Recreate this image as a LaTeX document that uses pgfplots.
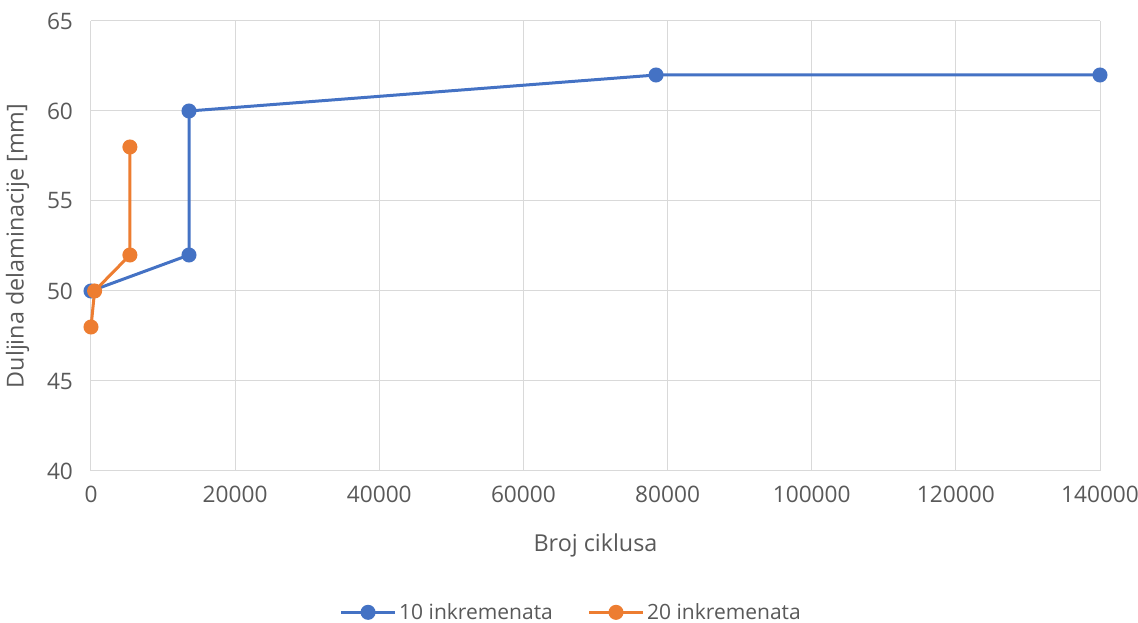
\documentclass[border=0pt]{standalone}
\usepackage{fontspec}
\setmainfont{Open Sans}
\usepackage{pgfplots}
\pgfplotsset{compat=1.18}
\definecolor{ser1}{HTML}{4472C4}
\definecolor{ser2}{HTML}{ED7D31}
\definecolor{gridc}{HTML}{D9D9D9}
\definecolor{txt}{HTML}{595959}
\begin{document}
\begin{tikzpicture}[x=1pt,y=1pt]
\begin{axis}[
  at={(0pt,0pt)}, anchor=south west,
  scale only axis, width=756.75pt, height=337.5pt,
  xmin=0, xmax=140000, ymin=40, ymax=65,
  xtick={0,20000,...,140000}, ytick={40,45,...,65},
  scaled x ticks=false,
  /pgf/number format/fixed,
  /pgf/number format/1000 sep={},
  /pgf/number format/assume math mode=true,
  grid=major, major grid style={gridc, line width=0.75pt},
  axis line style={draw=none},
  tick style={draw=none},
  ticklabel style={font=\fontsize{17}{20}\selectfont, text=txt},
  xlabel={Broj ciklusa}, ylabel={Duljina delaminacije [mm]},
  label style={font=\fontsize{17.5}{20}\selectfont, text=txt},
  xlabel style={at={(0.5,0)}, anchor=center, yshift=-56pt},
  ylabel style={at={(0,0.5)}, anchor=center, rotate=0, yshift=55pt},
  xticklabel style={yshift=-8pt},
  yticklabel style={xshift=-10pt},
  legend style={at={(0.5,0)}, anchor=center, xshift=-18pt, yshift=-106pt, draw=none, font=\fontsize{15.75}{18}\selectfont, text=txt, legend columns=2,
    /tikz/every even column/.append style={column sep=24pt}},
  legend image code/.code={\draw[#1, mark=none] (0pt,0pt) -- (40.5pt,0pt); \draw[#1, only marks] plot coordinates {(20.25pt,0pt)};},
  clip=false,
]
\addplot[ser1, line width=2.25pt, mark=*, mark size=4.5pt, mark options={solid}] coordinates {
 (0,50) (13600,52) (13600,60) (78400,62) (140000,62)};
\addlegendentry{10 inkremenata}
\addplot[ser2, line width=2.25pt, mark=*, mark size=4.5pt, mark options={solid}] coordinates {
 (0,48) (500,50) (5400,52) (5400,58)};
\addlegendentry{20 inkremenata}
\end{axis}
\pgfresetboundingbox
\path[use as bounding box] (-68.25pt,-114pt) rectangle (785.25pt,353.25pt);
\end{tikzpicture}
\end{document}
